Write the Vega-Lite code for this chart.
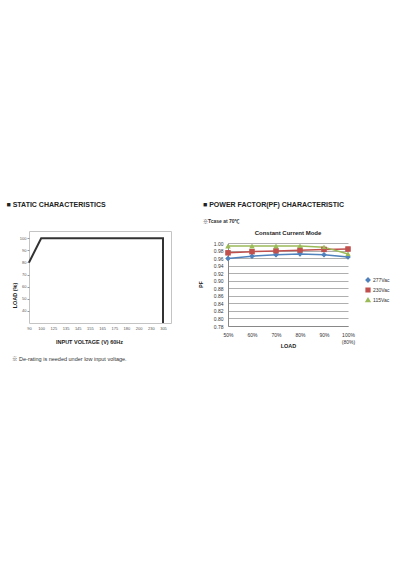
{
  "$schema": "https://vega.github.io/schema/vega-lite/v6.json",
  "background": "white",
  "padding": {"left": 6, "top": 200, "right": 0, "bottom": 0},
  "spacing": 26,
  "config": {
    "font": "Liberation Sans, Noto Sans CJK SC",
    "title": {"font": "Liberation Sans Narrow, Liberation Sans, Noto Sans CJK SC"},
    "axis": {"labelFont": "Liberation Sans", "titleFont": "Liberation Sans"}
  },
  "hconcat": [
    {
      "title": {
        "text": "■ STATIC CHARACTERISTICS",
        "anchor": "start",
        "frame": "bounds",
        "fontSize": 7,
        "fontWeight": "bold",
        "color": "#222222",
        "offset": 23,
        "dx": -5
      },
      "vconcat": [
        {
          "width": 142,
          "height": 92,
          "view": {"stroke": "#c4c4c4", "strokeWidth": 1},
          "title": {
            "text": "※ De-rating is needed under low input voltage.",
            "orient": "bottom",
            "anchor": "start",
            "frame": "bounds",
            "fontSize": 5.5,
            "fontWeight": "normal",
            "font": "Liberation Sans, Noto Sans CJK SC",
            "color": "#333333",
            "offset": 12
          },
          "data": {
            "values": [
              {"voltage": "90", "load": 80, "seq": 1},
              {"voltage": "100", "load": 100, "seq": 2},
              {"voltage": "305", "load": 100, "seq": 3},
              {"voltage": "305", "load": 30, "seq": 4}
            ]
          },
          "mark": {"type": "line", "color": "#333333", "strokeWidth": 2},
          "encoding": {
            "x": {
              "field": "voltage",
              "type": "ordinal",
              "sort": null,
              "scale": {
                "type": "point",
                "domain": ["90", "100", "125", "135", "145", "155", "165", "175", "180", "200", "230", "305"],
                "range": [0, 134],
                "padding": 0
              },
              "axis": {
                "labelAngle": 0,
                "labelFontSize": 4,
                "labelColor": "#555555",
                "labelPadding": 3,
                "domain": false,
                "ticks": false,
                "title": "INPUT VOLTAGE (V) 60Hz",
                "titleFontSize": 5.5,
                "titleFontWeight": "bold",
                "titleColor": "#222222",
                "titleBaseline": "middle",
                "titleX": 60,
                "titleY": 18
              }
            },
            "y": {
              "field": "load",
              "type": "quantitative",
              "scale": {"domain": [30, 106], "nice": false},
              "axis": {
                "values": [40, 50, 60, 70, 80, 90, 100],
                "labelFontSize": 4,
                "labelColor": "#555555",
                "labelPadding": 1,
                "tickSize": 2,
                "tickColor": "#999999",
                "domain": false,
                "grid": false,
                "title": "LOAD (%)",
                "titleFontSize": 5.5,
                "titleFontWeight": "bold",
                "titleColor": "#222222",
                "titleAlign": "center",
                "titleBaseline": "middle",
                "titleX": -15,
                "titleY": 64
              }
            },
            "order": {"field": "seq", "type": "quantitative"}
          }
        }
      ]
    },
    {
      "title": {
        "text": "■ POWER FACTOR(PF) CHARACTERISTIC",
        "subtitle": "        ※Tcase at 70℃",
        "anchor": "start",
        "frame": "bounds",
        "fontSize": 7,
        "fontWeight": "bold",
        "color": "#222222",
        "subtitleFontSize": 5,
        "subtitleFontWeight": "bold",
        "subtitleColor": "#333333",
        "subtitlePadding": 11,
        "offset": 6.5,
        "dx": 5
      },
      "vconcat": [
        {
          "width": 120,
          "height": 95,
          "view": {"stroke": null},
          "title": {
            "text": "Constant Current Mode",
            "anchor": "middle",
            "fontSize": 6,
            "fontWeight": "bold",
            "font": "Liberation Sans",
            "color": "#222222",
            "offset": -5
          },
          "data": {
            "values": [
              {"load": "50%", "series": "277Vac", "pf": 0.959},
              {"load": "60%", "series": "277Vac", "pf": 0.965},
              {"load": "70%", "series": "277Vac", "pf": 0.969},
              {"load": "80%", "series": "277Vac", "pf": 0.971},
              {"load": "90%", "series": "277Vac", "pf": 0.969},
              {"load": "100%", "series": "277Vac", "pf": 0.963},
              {"load": "50%", "series": "230Vac", "pf": 0.974},
              {"load": "60%", "series": "230Vac", "pf": 0.977},
              {"load": "70%", "series": "230Vac", "pf": 0.979},
              {"load": "80%", "series": "230Vac", "pf": 0.981},
              {"load": "90%", "series": "230Vac", "pf": 0.983},
              {"load": "100%", "series": "230Vac", "pf": 0.984},
              {"load": "50%", "series": "115Vac", "pf": 0.992},
              {"load": "60%", "series": "115Vac", "pf": 0.992},
              {"load": "70%", "series": "115Vac", "pf": 0.992},
              {"load": "80%", "series": "115Vac", "pf": 0.992},
              {"load": "90%", "series": "115Vac", "pf": 0.989},
              {"load": "100%", "series": "115Vac", "pf": 0.971}
            ]
          },
          "encoding": {
            "x": {
              "field": "load",
              "type": "ordinal",
              "sort": null,
              "scale": {"type": "point", "padding": 0},
              "axis": {
                "labelAngle": 0,
                "labelFontSize": 5,
                "labelColor": "#333333",
                "labelPadding": 6,
                "labelExpr": "datum.value == '100%' ? ['100%', '(80%)'] : datum.value",
                "ticks": false,
                "domain": true,
                "domainColor": "#888888",
                "grid": false,
                "title": "LOAD",
                "titleFontSize": 5.5,
                "titleFontWeight": "bold",
                "titleColor": "#222222",
                "titleBaseline": "middle",
                "titleY": 19
              }
            },
            "y": {
              "field": "pf",
              "type": "quantitative",
              "scale": {"domain": [0.78, 1.0], "nice": false, "range": [95, 12]},
              "axis": {
                "values": [0.78, 0.8, 0.82, 0.84, 0.86, 0.88, 0.9, 0.92, 0.94, 0.96, 0.98, 1.0],
                "format": ".2f",
                "labelFontSize": 5,
                "labelColor": "#333333",
                "labelPadding": 5,
                "ticks": false,
                "domain": true,
                "domainColor": "#888888",
                "grid": true,
                "gridColor": "#9a9a9a",
                "gridWidth": 0.8,
                "title": "PF",
                "titleFontSize": 5,
                "titleFontWeight": "bold",
                "titleColor": "#222222",
                "titleAlign": "center",
                "titleBaseline": "middle",
                "titleX": -28,
                "titleY": 53
              }
            },
            "color": {
              "field": "series",
              "type": "nominal",
              "sort": null,
              "scale": {
                "domain": ["277Vac", "230Vac", "115Vac"],
                "range": ["#4F81BD", "#C0504D", "#9BBB59"]
              },
              "legend": {
                "title": null,
                "orient": "none",
                "legendX": 336,
                "legendY": 46,
                "labelFontSize": 5,
                "labelColor": "#333333",
                "symbolSize": 14,
                "rowPadding": 0,
                "labelOffset": 2
              }
            },
            "shape": {
              "field": "series",
              "type": "nominal",
              "sort": null,
              "scale": {
                "domain": ["277Vac", "230Vac", "115Vac"],
                "range": ["diamond", "square", "triangle-up"]
              },
              "legend": {
                "title": null,
                "orient": "none",
                "legendX": 336,
                "legendY": 46,
                "labelFontSize": 5,
                "labelColor": "#333333",
                "symbolSize": 14,
                "rowPadding": 0,
                "labelOffset": 2
              }
            }
          },
          "layer": [
            {"mark": {"type": "line", "strokeWidth": 1.5}},
            {"mark": {"type": "point", "filled": true, "size": 20, "opacity": 1}}
          ]
        }
      ]
    }
  ]
}
